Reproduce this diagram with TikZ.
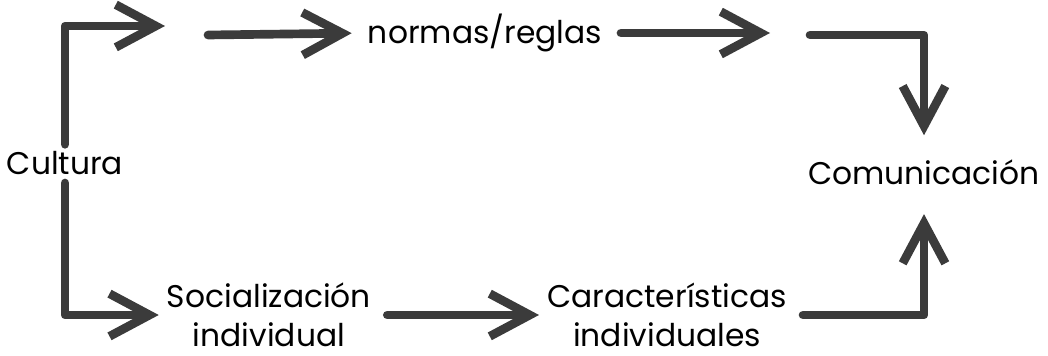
\documentclass[tikz,border=0pt]{standalone}
\usepackage{fontspec}
\setmainfont{Poppins}
\usetikzlibrary{arrows.meta}
\definecolor{ink}{HTML}{3B3B3B}
\begin{document}
\begin{tikzpicture}[line cap=round,line join=round,x=0.75pt,y=-0.75pt,
  >={Straight Barb[length=30pt,width=32pt]},
  arr/.style={->,line width=6.5pt,draw=ink},
  lbl/.style={inner sep=2pt,font=\fontsize{23.5}{29}\selectfont,align=center}]
\useasboundingbox (0,0) rectangle (1048,356);
\node[lbl] (cultura) at (65,163) {Cultura};
\node[lbl] (normas) at (485,33) {normas/reglas};
\node[lbl] (comunic) at (924,172) {Comunicación};
\node[lbl] (social) at (269,315) {Socialización\\individual};
\node[lbl] (caract) at (667,315) {Características\\individuales};
\coordinate (t1) at (165,26);
\coordinate (s2) at (208,35);
\coordinate (t3) at (770,33);
\coordinate (s4) at (810,35);
\draw[arr,shorten <=3pt] (cultura.north) |- (t1);
\draw[arr,shorten >=10pt] (s2) -- (normas.west);
\draw[arr,shorten <=12pt] (normas.east) -- (t3);
\draw[arr,shorten >=16pt] (s4) -| (comunic.north);
\draw[arr,shorten <=4pt,shorten >=4pt] (cultura.south) |- (social.west);
\draw[arr,shorten <=10pt,shorten >=4pt] (social.east) -- (caract.west);
\draw[arr,shorten <=10pt,shorten >=20pt] (caract.east) -| (comunic.south);
\end{tikzpicture}
\end{document}
